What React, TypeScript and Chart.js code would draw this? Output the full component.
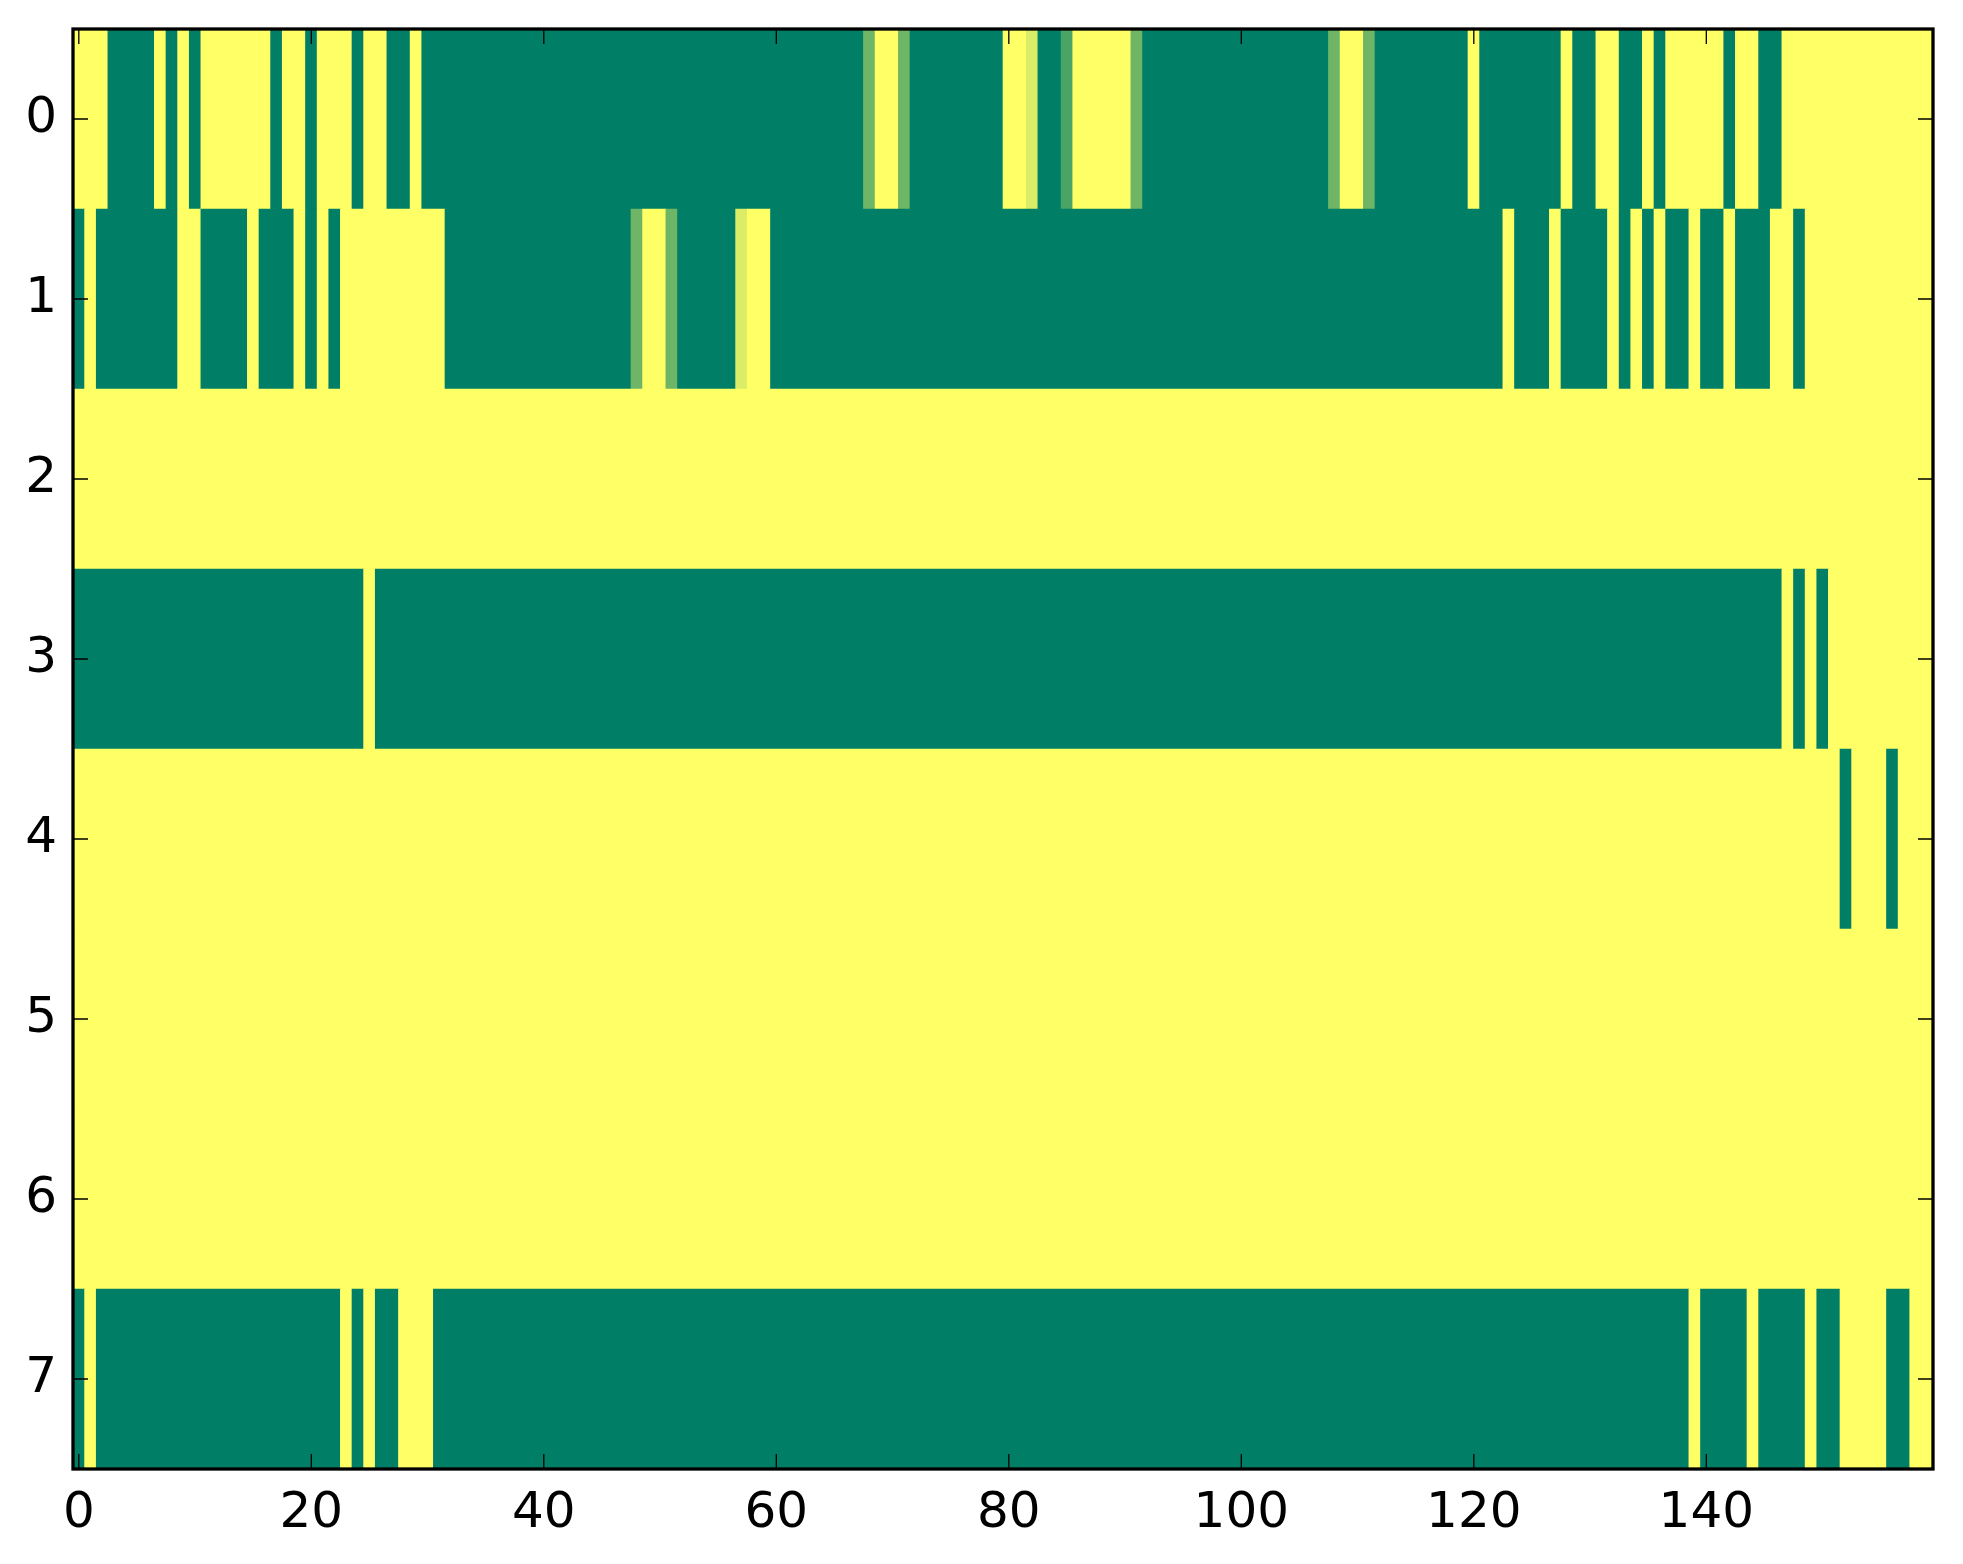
import { useEffect, useRef } from "react";
import { Chart, registerables } from "chart.js";

Chart.register(...registerables);

// row labels (y) and x tick positions
const rowLabels = ["0", "1", "2", "3", "4", "5", "6", "7"];
const xTicks = [0, 20, 40, 60, 80, 100, 120, 140];

// cell values per row, 160 columns each (0 = green, 1 = yellow)
const row0 = [
  1, 1, 1, 0, 0, 0, 0, 1, 0, 1, 0, 1, 1, 1, 1, 1, 1, 0, 1, 1,
  0, 1, 1, 1, 0, 1, 1, 0, 0, 1, 0, 0, 0, 0, 0, 0, 0, 0, 0, 0,
  0, 0, 0, 0, 0, 0, 0, 0, 0, 0, 0, 0, 0, 0, 0, 0, 0, 0, 0, 0,
  0, 0, 0, 0, 0, 0, 0, 0, 0.43, 1, 1, 0.43, 0, 0, 0, 0, 0, 0, 0, 0,
  1, 1, 0.86, 0, 0, 0.29, 1, 1, 1, 1, 1, 0.43, 0, 0, 0, 0, 0, 0, 0, 0,
  0, 0, 0, 0, 0, 0, 0, 0, 0.43, 1, 1, 0.43, 0, 0, 0, 0, 0, 0, 0, 0,
  1, 0, 0, 0, 0, 0, 0, 0, 1, 0, 0, 1, 1, 0, 0, 1, 0, 1, 1, 1,
  1, 1, 0, 1, 1, 0, 0, 1, 1, 1, 1, 1, 1, 1, 1, 1, 1, 1, 1, 1,
];
const row1 = [
  0, 1, 0, 0, 0, 0, 0, 0, 0, 1, 1, 0, 0, 0, 0, 1, 0, 0, 0, 1,
  0, 1, 0, 1, 1, 1, 1, 1, 1, 1, 1, 1, 0, 0, 0, 0, 0, 0, 0, 0,
  0, 0, 0, 0, 0, 0, 0, 0, 0.43, 1, 1, 0.43, 0, 0, 0, 0, 0, 0.86, 1, 1,
  0, 0, 0, 0, 0, 0, 0, 0, 0, 0, 0, 0, 0, 0, 0, 0, 0, 0, 0, 0,
  0, 0, 0, 0, 0, 0, 0, 0, 0, 0, 0, 0, 0, 0, 0, 0, 0, 0, 0, 0,
  0, 0, 0, 0, 0, 0, 0, 0, 0, 0, 0, 0, 0, 0, 0, 0, 0, 0, 0, 0,
  0, 0, 0, 1, 0, 0, 0, 1, 0, 0, 0, 0, 1, 0, 1, 0, 1, 0, 0, 1,
  0, 0, 1, 0, 0, 0, 1, 1, 0, 1, 1, 1, 1, 1, 1, 1, 1, 1, 1, 1,
];
const row2 = [
  1, 1, 1, 1, 1, 1, 1, 1, 1, 1, 1, 1, 1, 1, 1, 1, 1, 1, 1, 1,
  1, 1, 1, 1, 1, 1, 1, 1, 1, 1, 1, 1, 1, 1, 1, 1, 1, 1, 1, 1,
  1, 1, 1, 1, 1, 1, 1, 1, 1, 1, 1, 1, 1, 1, 1, 1, 1, 1, 1, 1,
  1, 1, 1, 1, 1, 1, 1, 1, 1, 1, 1, 1, 1, 1, 1, 1, 1, 1, 1, 1,
  1, 1, 1, 1, 1, 1, 1, 1, 1, 1, 1, 1, 1, 1, 1, 1, 1, 1, 1, 1,
  1, 1, 1, 1, 1, 1, 1, 1, 1, 1, 1, 1, 1, 1, 1, 1, 1, 1, 1, 1,
  1, 1, 1, 1, 1, 1, 1, 1, 1, 1, 1, 1, 1, 1, 1, 1, 1, 1, 1, 1,
  1, 1, 1, 1, 1, 1, 1, 1, 1, 1, 1, 1, 1, 1, 1, 1, 1, 1, 1, 1,
];
const row3 = [
  0, 0, 0, 0, 0, 0, 0, 0, 0, 0, 0, 0, 0, 0, 0, 0, 0, 0, 0, 0,
  0, 0, 0, 0, 0, 1, 0, 0, 0, 0, 0, 0, 0, 0, 0, 0, 0, 0, 0, 0,
  0, 0, 0, 0, 0, 0, 0, 0, 0, 0, 0, 0, 0, 0, 0, 0, 0, 0, 0, 0,
  0, 0, 0, 0, 0, 0, 0, 0, 0, 0, 0, 0, 0, 0, 0, 0, 0, 0, 0, 0,
  0, 0, 0, 0, 0, 0, 0, 0, 0, 0, 0, 0, 0, 0, 0, 0, 0, 0, 0, 0,
  0, 0, 0, 0, 0, 0, 0, 0, 0, 0, 0, 0, 0, 0, 0, 0, 0, 0, 0, 0,
  0, 0, 0, 0, 0, 0, 0, 0, 0, 0, 0, 0, 0, 0, 0, 0, 0, 0, 0, 0,
  0, 0, 0, 0, 0, 0, 0, 1, 0, 1, 0, 1, 1, 1, 1, 1, 1, 1, 1, 1,
];
const row4 = [
  1, 1, 1, 1, 1, 1, 1, 1, 1, 1, 1, 1, 1, 1, 1, 1, 1, 1, 1, 1,
  1, 1, 1, 1, 1, 1, 1, 1, 1, 1, 1, 1, 1, 1, 1, 1, 1, 1, 1, 1,
  1, 1, 1, 1, 1, 1, 1, 1, 1, 1, 1, 1, 1, 1, 1, 1, 1, 1, 1, 1,
  1, 1, 1, 1, 1, 1, 1, 1, 1, 1, 1, 1, 1, 1, 1, 1, 1, 1, 1, 1,
  1, 1, 1, 1, 1, 1, 1, 1, 1, 1, 1, 1, 1, 1, 1, 1, 1, 1, 1, 1,
  1, 1, 1, 1, 1, 1, 1, 1, 1, 1, 1, 1, 1, 1, 1, 1, 1, 1, 1, 1,
  1, 1, 1, 1, 1, 1, 1, 1, 1, 1, 1, 1, 1, 1, 1, 1, 1, 1, 1, 1,
  1, 1, 1, 1, 1, 1, 1, 1, 1, 1, 1, 1, 0, 1, 1, 1, 0, 1, 1, 1,
];
const row5 = [
  1, 1, 1, 1, 1, 1, 1, 1, 1, 1, 1, 1, 1, 1, 1, 1, 1, 1, 1, 1,
  1, 1, 1, 1, 1, 1, 1, 1, 1, 1, 1, 1, 1, 1, 1, 1, 1, 1, 1, 1,
  1, 1, 1, 1, 1, 1, 1, 1, 1, 1, 1, 1, 1, 1, 1, 1, 1, 1, 1, 1,
  1, 1, 1, 1, 1, 1, 1, 1, 1, 1, 1, 1, 1, 1, 1, 1, 1, 1, 1, 1,
  1, 1, 1, 1, 1, 1, 1, 1, 1, 1, 1, 1, 1, 1, 1, 1, 1, 1, 1, 1,
  1, 1, 1, 1, 1, 1, 1, 1, 1, 1, 1, 1, 1, 1, 1, 1, 1, 1, 1, 1,
  1, 1, 1, 1, 1, 1, 1, 1, 1, 1, 1, 1, 1, 1, 1, 1, 1, 1, 1, 1,
  1, 1, 1, 1, 1, 1, 1, 1, 1, 1, 1, 1, 1, 1, 1, 1, 1, 1, 1, 1,
];
const row6 = [
  1, 1, 1, 1, 1, 1, 1, 1, 1, 1, 1, 1, 1, 1, 1, 1, 1, 1, 1, 1,
  1, 1, 1, 1, 1, 1, 1, 1, 1, 1, 1, 1, 1, 1, 1, 1, 1, 1, 1, 1,
  1, 1, 1, 1, 1, 1, 1, 1, 1, 1, 1, 1, 1, 1, 1, 1, 1, 1, 1, 1,
  1, 1, 1, 1, 1, 1, 1, 1, 1, 1, 1, 1, 1, 1, 1, 1, 1, 1, 1, 1,
  1, 1, 1, 1, 1, 1, 1, 1, 1, 1, 1, 1, 1, 1, 1, 1, 1, 1, 1, 1,
  1, 1, 1, 1, 1, 1, 1, 1, 1, 1, 1, 1, 1, 1, 1, 1, 1, 1, 1, 1,
  1, 1, 1, 1, 1, 1, 1, 1, 1, 1, 1, 1, 1, 1, 1, 1, 1, 1, 1, 1,
  1, 1, 1, 1, 1, 1, 1, 1, 1, 1, 1, 1, 1, 1, 1, 1, 1, 1, 1, 1,
];
const row7 = [
  0, 1, 0, 0, 0, 0, 0, 0, 0, 0, 0, 0, 0, 0, 0, 0, 0, 0, 0, 0,
  0, 0, 0, 1, 0, 1, 0, 0, 1, 1, 1, 0, 0, 0, 0, 0, 0, 0, 0, 0,
  0, 0, 0, 0, 0, 0, 0, 0, 0, 0, 0, 0, 0, 0, 0, 0, 0, 0, 0, 0,
  0, 0, 0, 0, 0, 0, 0, 0, 0, 0, 0, 0, 0, 0, 0, 0, 0, 0, 0, 0,
  0, 0, 0, 0, 0, 0, 0, 0, 0, 0, 0, 0, 0, 0, 0, 0, 0, 0, 0, 0,
  0, 0, 0, 0, 0, 0, 0, 0, 0, 0, 0, 0, 0, 0, 0, 0, 0, 0, 0, 0,
  0, 0, 0, 0, 0, 0, 0, 0, 0, 0, 0, 0, 0, 0, 0, 0, 0, 0, 0, 1,
  0, 0, 0, 0, 1, 0, 0, 0, 0, 1, 0, 0, 1, 1, 1, 1, 0, 0, 1, 1,
];

const rows = [row0, row1, row2, row3, row4, row5, row6, row7];

// matplotlib "summer" colormap
const summer = (v: number) =>
  `rgb(${Math.round(v * 255)}, ${Math.round(127 + v * 128)}, 102)`;

// one floating bar per run of equal values in a row
const cells: { x: [number, number]; y: string; v: number }[] = [];
rows.forEach((row, r) => {
  let start = 0;
  for (let c = 1; c <= row.length; c++) {
    if (c === row.length || row[c] !== row[start]) {
      cells.push({ x: [start - 0.5, c - 0.5], y: rowLabels[r], v: row[start] });
      start = c;
    }
  }
});

// black frame and inward ticks on all four sides
const framePlugin = {
  id: "frame",
  afterDraw(chart: any) {
    const { ctx, chartArea: a, scales } = chart;
    ctx.save();
    ctx.strokeStyle = "#000";
    ctx.lineWidth = 1.3;
    ctx.beginPath();
    xTicks.forEach((v) => {
      const px = scales.x.getPixelForValue(v);
      ctx.moveTo(px, a.bottom);
      ctx.lineTo(px, a.bottom - 15);
      ctx.moveTo(px, a.top);
      ctx.lineTo(px, a.top + 15);
    });
    rowLabels.forEach((_, i) => {
      const py = scales.y.getPixelForValue(i);
      ctx.moveTo(a.left, py);
      ctx.lineTo(a.left + 15, py);
      ctx.moveTo(a.right, py);
      ctx.lineTo(a.right - 15, py);
    });
    ctx.stroke();
    ctx.lineWidth = 3.3;
    ctx.strokeRect(a.left, a.top, a.right - a.left, a.bottom - a.top);
    ctx.restore();
  },
};

const tickFont = { family: "'DejaVu Sans', sans-serif", size: 50 };

const App = () => {
  const canvasRef = useRef<HTMLCanvasElement>(null);

  useEffect(() => {
    const ctx = canvasRef.current?.getContext("2d");
    if (!ctx) return;

    const chart = new Chart(ctx, {
      type: "bar",
      data: {
        labels: rowLabels,
        datasets: [
          {
            data: cells as any,
            backgroundColor: cells.map((c) => summer(c.v)),
            borderWidth: 0,
            barPercentage: 1,
            categoryPercentage: 1,
            grouped: false,
          },
        ],
      },
      options: {
        indexAxis: "y",
        responsive: true,
        maintainAspectRatio: false,
        animation: false,
        layout: { padding: { top: 29, right: 30, left: 0, bottom: 0 } },
        plugins: {
          legend: { display: false },
          tooltip: { enabled: false },
        },
        scales: {
          x: {
            type: "linear",
            min: -0.5,
            max: 159.5,
            afterBuildTicks: (s: any) => {
              s.ticks = xTicks.map((value) => ({ value }));
            },
            afterFit: (s: any) => {
              s.height = 95;
              s.paddingLeft = 0;
              s.paddingRight = 0;
            },
            grid: { display: false },
            border: { display: false },
            ticks: {
              color: "#000",
              font: tickFont,
              padding: 7,
              maxRotation: 0,
              autoSkip: false,
            },
          },
          y: {
            type: "category",
            afterFit: (s: any) => {
              s.width = 73;
              s.paddingTop = 0;
              s.paddingBottom = 0;
            },
            grid: { display: false },
            border: { display: false },
            ticks: { color: "#000", font: tickFont, padding: 8 },
          },
        },
      },
      plugins: [framePlugin],
    });

    return () => {
      chart.destroy();
    };
  }, []);

  return (
    <div
      style={{
        position: "fixed",
        left: 0,
        top: 0,
        width: 1963,
        height: 1564,
        background: "#fff",
      }}
    >
      <canvas ref={canvasRef}></canvas>
    </div>
  );
};

export default App;
